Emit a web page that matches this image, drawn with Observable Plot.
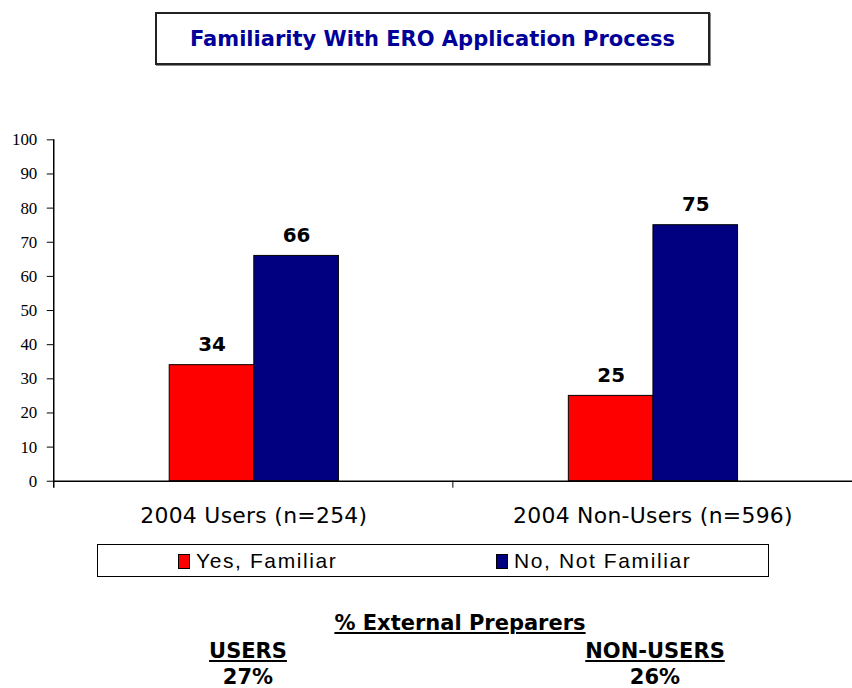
<!DOCTYPE html>
<html><head><meta charset="utf-8">
<script src="https://cdn.jsdelivr.net/npm/d3@7"></script>
<script src="https://cdn.jsdelivr.net/npm/@observablehq/plot@0.6"></script>
<style>
body{margin:0;background:#fff;overflow:hidden;}
#wrap{position:relative;width:852px;height:688px;overflow:hidden;}
#title{position:absolute;left:155px;top:12px;width:551px;height:49px;border:2px solid #222;box-shadow:1px 1px 0 #888;
 display:flex;align-items:center;justify-content:center;font:bold 21px "DejaVu Sans",Verdana,sans-serif;color:#000099;}
#legend{position:absolute;left:97px;top:544px;width:670px;height:31px;border:1.5px solid #000;
 font:21px "Liberation Sans",Arial,sans-serif;letter-spacing:1.6px;}
.item{position:absolute;top:3px;display:flex;align-items:center;height:26px;}
.sw{width:10px;height:13px;border:1px solid #000;margin-right:6px;}
.bt{position:absolute;font:bold 21px "DejaVu Sans",Verdana,sans-serif;color:#000;text-align:center;transform:translateX(-50%);white-space:nowrap;}
.u{text-decoration:underline;}
svg{position:absolute;left:0;top:0;}
</style></head>
<body><div id="wrap"></div>
<script>
const groups = ["2004 Users (n=254)", "2004 Non-Users (n=596)"];
const series = ["Yes, Familiar", "No, Not Familiar"];
const yesValues = [34, 25];
const noValues = [66, 75];
const colors = ["#ff0000", "#000080"];
const yTicks = [0,10,20,30,40,50,60,70,80,90,100];
const titleText = "Familiarity With ERO Application Process";
const footHeader = "% External Preparers";
const footGroups = ["USERS", "NON-USERS"];
const footValues = ["27%", "26%"];

const data = [];
groups.forEach((g,i)=>{
  data.push({group:g, series:series[0], value:yesValues[i]});
  data.push({group:g, series:series[1], value:noValues[i]});
});

const wrap = document.getElementById("wrap");
const plot = Plot.plot({
  width: 856, height: 545,
  marginLeft: 54, marginRight: 0, marginTop: 140, marginBottom: 62,
  style:{background:"transparent"},
  fx:{domain:groups, padding:0, label:null},
  x:{domain:series, paddingInner:0, paddingOuter:1.345, axis:null},
  y:{domain:[0,100], axis:null},
  color:{domain:series, range:colors},
  marks:[
    Plot.barY(data,{fx:"group", x:"series", y:"value", fill:"series", stroke:"#000", strokeWidth:1}),
    Plot.text(data,{fx:"group", x:"series", y:"value", text:d=>String(d.value), dy:-14, lineAnchor:"bottom",
      fontSize:20, fontWeight:"bold", fontFamily:"DejaVu Sans, Verdana, sans-serif", fill:"#000"}),
    Plot.ruleY([0],{stroke:"#000", strokeWidth:1.5}),
    Plot.axisY({ticks:yTicks, tickSize:7, tickPadding:10, fontSize:17, tickFormat:d=>String(d), label:null, stroke:"#000"}),
    Plot.axisFx({anchor:"bottom", tickSize:0, tickPadding:26, fontSize:22, label:null})
  ]
});
wrap.appendChild(plot);

// axis line and category boundary ticks using the plot's scales
const fx = plot.scale("fx"), y = plot.scale("y");
const svg = d3.select(plot);
const y0 = y.apply(0), y100 = y.apply(100);
const x0 = fx.apply(groups[0]);
svg.append("line").attr("x1",x0).attr("x2",x0).attr("y1",y100).attr("y2",y0+7).attr("stroke","#000").attr("stroke-width",1.5);
groups.slice(1).forEach(g=>{
  const xb = fx.apply(g);
  svg.append("line").attr("x1",xb).attr("x2",xb).attr("y1",y0).attr("y2",y0+7).attr("stroke","#000").attr("stroke-width",1);
});
svg.selectAll("g[aria-label='y-axis tick label']").style("font-family","'Liberation Serif','Times New Roman',serif").style("font-size","17px");
svg.selectAll("g[aria-label='fx-axis tick label']").style("font-family","'DejaVu Sans',Verdana,sans-serif").style("font-size","22px").style("letter-spacing","0.3px");

// title
const t = document.createElement("div"); t.id="title"; t.textContent=titleText; wrap.appendChild(t);

// legend
const lg = document.createElement("div"); lg.id="legend";
const legPos = [80, 398];
series.forEach((s,i)=>{
  const it = document.createElement("div"); it.className="item"; it.style.left = legPos[i]+"px";
  const sw = document.createElement("div"); sw.className="sw"; sw.style.background = colors[i];
  const tx = document.createElement("span"); tx.textContent = s;
  it.appendChild(sw); it.appendChild(tx); lg.appendChild(it);
});
wrap.appendChild(lg);

// footer
function addText(txt, x, top, underline){
  const d = document.createElement("div"); d.className="bt"+(underline?" u":""); d.textContent=txt;
  d.style.left = x+"px"; d.style.top = top+"px"; wrap.appendChild(d);
}
addText(footHeader, 460, 611, true);
const footX = [248, 655];
footGroups.forEach((g,i)=>{ addText(g, footX[i], 639, true); addText(footValues[i], footX[i], 665, false); });
</script></body></html>
